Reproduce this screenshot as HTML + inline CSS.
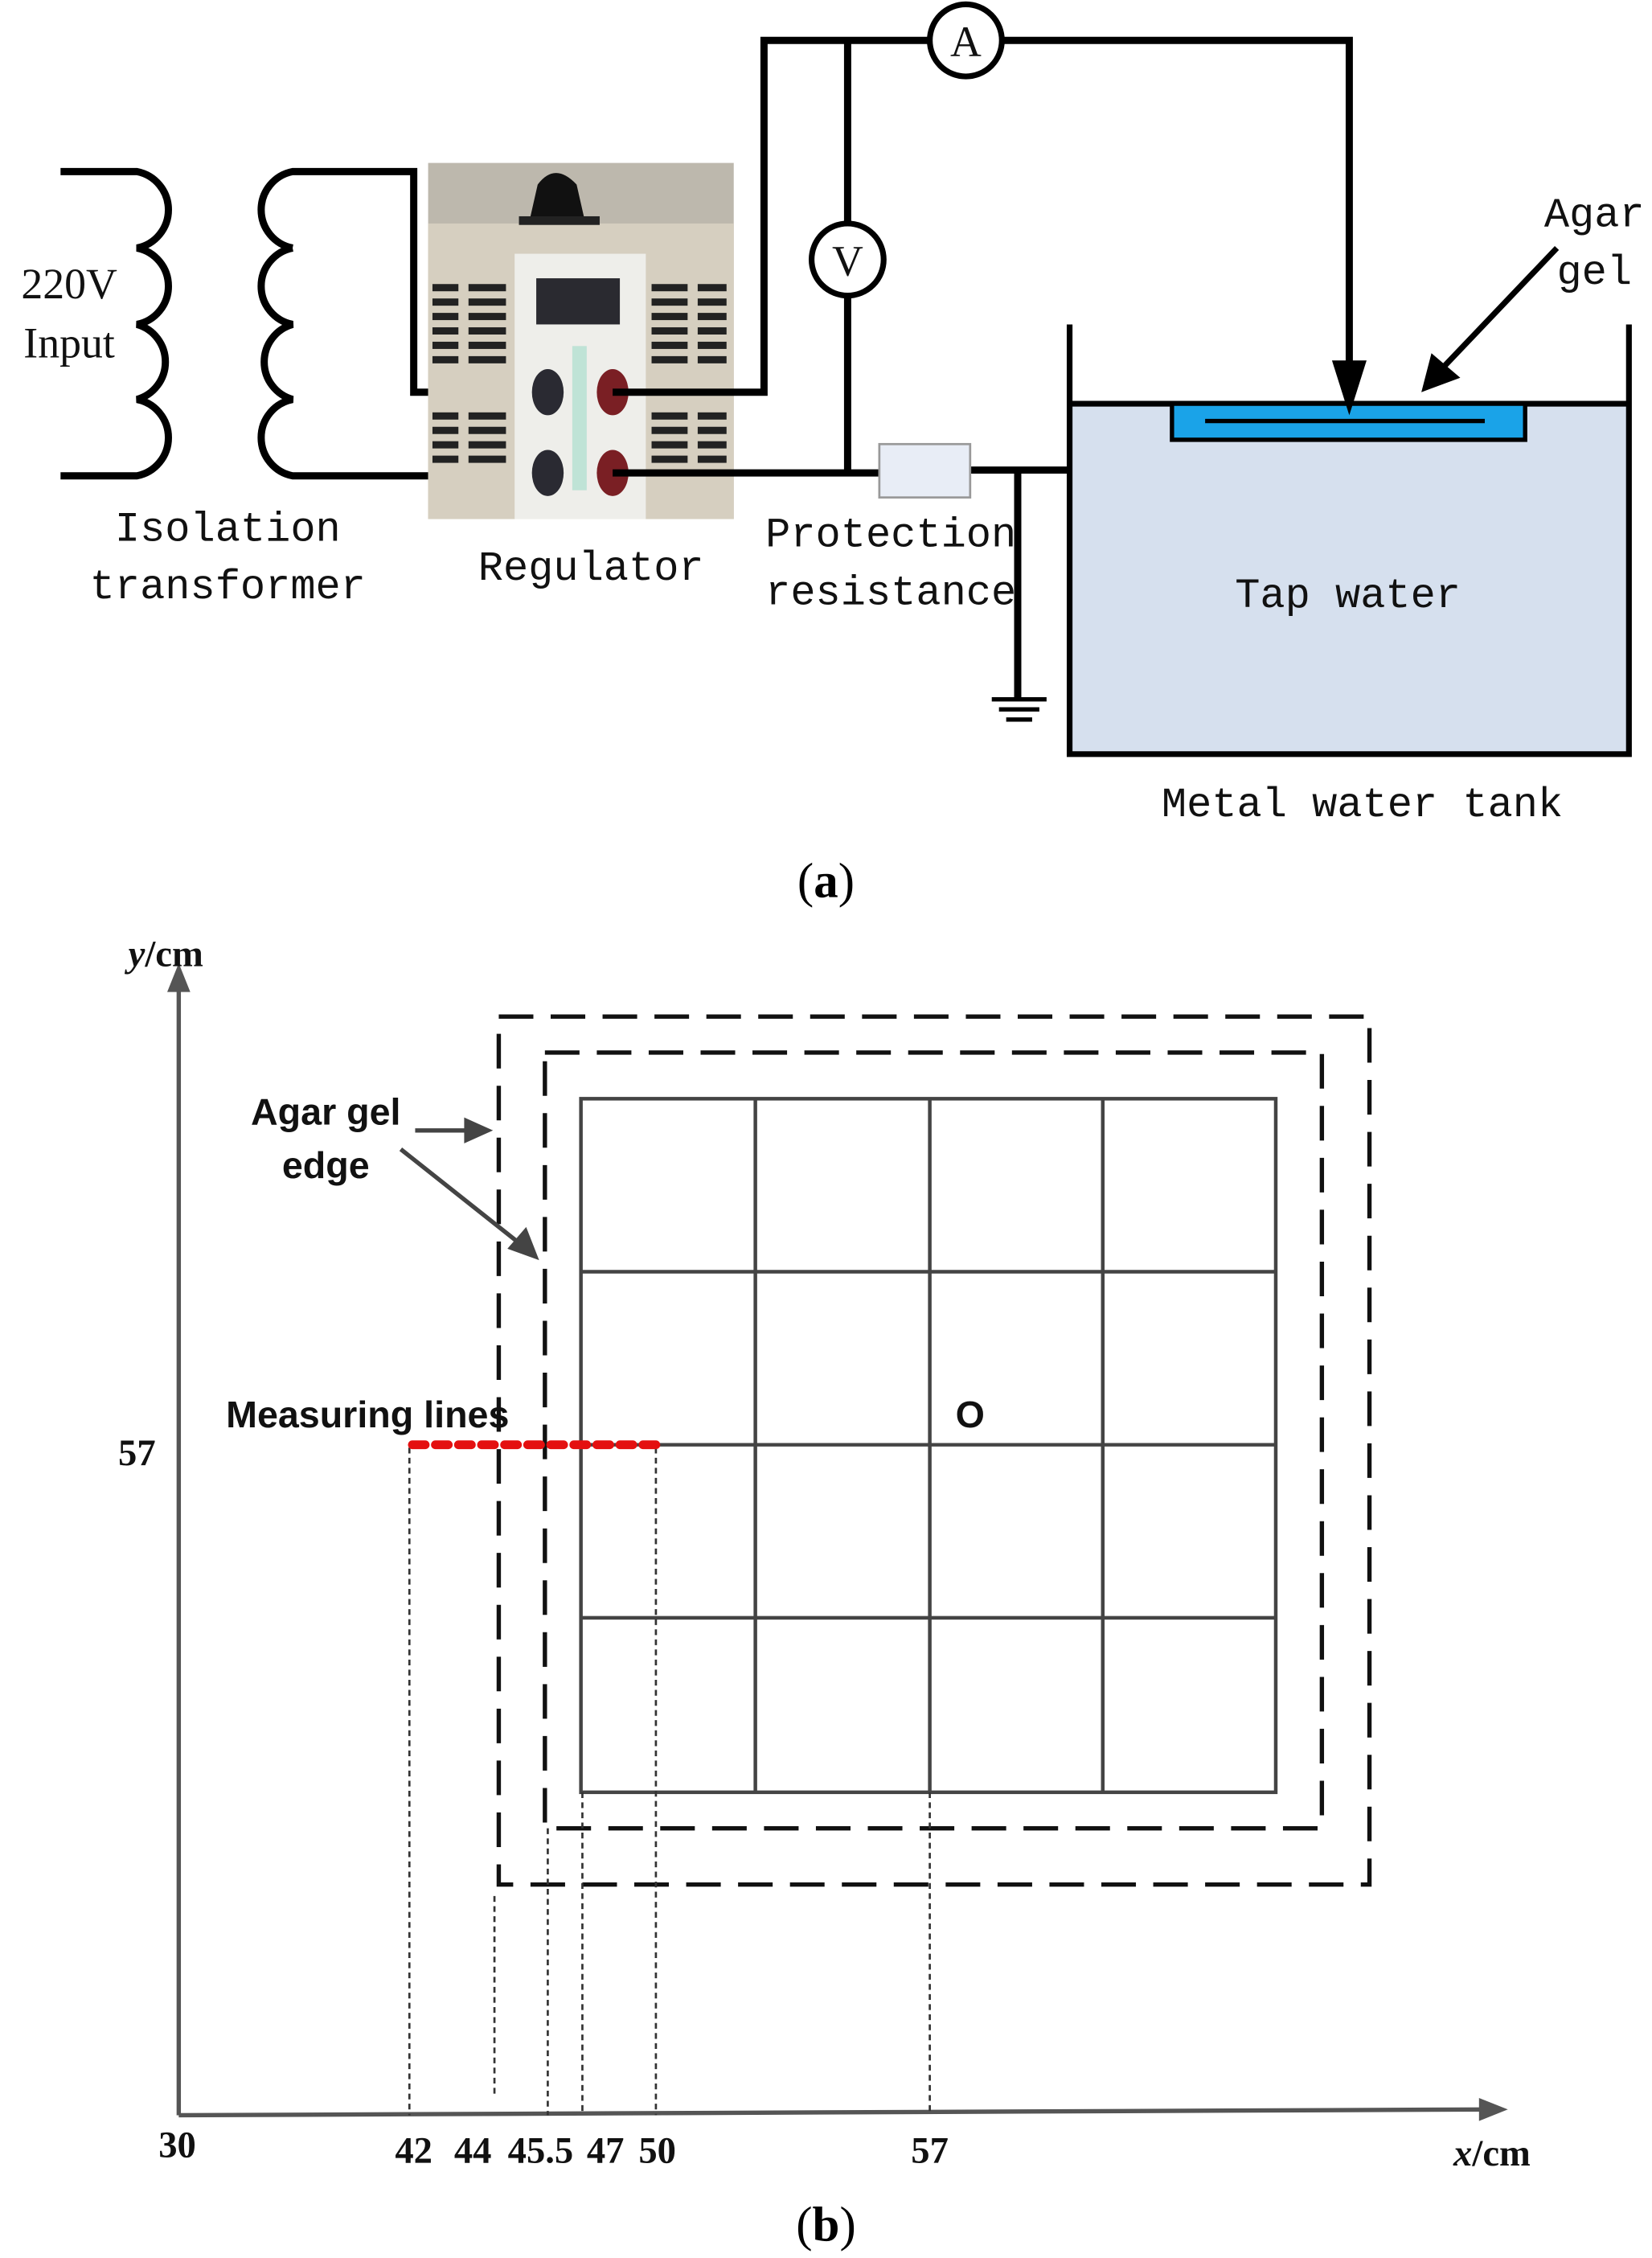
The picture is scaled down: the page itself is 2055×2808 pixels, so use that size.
<!DOCTYPE html>
<html><head><meta charset="utf-8"><style>
html,body{margin:0;padding:0;background:#fff}
svg{display:block}
.m{font-family:"Liberation Mono",monospace;font-size:29px;fill:#111}
.b{font-family:"Liberation Sans",sans-serif;font-weight:bold;font-size:26px;fill:#111}
.s{font-family:"Liberation Serif",serif;font-weight:bold;font-size:26px;fill:#111}
</style></head><body>
<svg width="2055" height="2808" viewBox="0 0 1146 1566" preserveAspectRatio="none" xmlns="http://www.w3.org/2000/svg">
<rect width="1146" height="1566" fill="#fff"/>
<!-- transformer -->
<g fill="none" stroke="#000" stroke-width="5">
<path d="M42 119 H95 A27 27 0 0 1 95 172 A27 27 0 0 1 95 225 A27 27 0 0 1 95 277 A27 27 0 0 1 95 330 H42"/>
<path d="M203 172 A27 27 0 0 1 203 119 H287 V272 H380"/>
<path d="M203 172 A27 27 0 0 0 203 225 A27 27 0 0 0 203 277 A27 27 0 0 0 203 330 H380"/>
</g>
<!-- regulator photo -->
<rect x="297" y="113" width="212" height="247" fill="#bdb8ad"/>
<rect x="297" y="155" width="212" height="205" fill="#d6cfc0"/>
<path d="M368 150 L373 128 Q385 112 400 128 L405 150 Z" fill="#111"/>
<rect x="360" y="150" width="56" height="6" fill="#222"/>
<rect x="357" y="176" width="91" height="184" fill="#eeeeea"/>
<rect x="372" y="193" width="58" height="32" fill="#2a2a30"/>
<g fill="#222">
<rect x="300" y="197" width="18" height="5"/><rect x="325" y="197" width="26" height="5"/><rect x="452" y="197" width="25" height="5"/><rect x="484" y="197" width="20" height="5"/>
<rect x="300" y="207" width="18" height="5"/><rect x="325" y="207" width="26" height="5"/><rect x="452" y="207" width="25" height="5"/><rect x="484" y="207" width="20" height="5"/>
<rect x="300" y="217" width="18" height="5"/><rect x="325" y="217" width="26" height="5"/><rect x="452" y="217" width="25" height="5"/><rect x="484" y="217" width="20" height="5"/>
<rect x="300" y="227" width="18" height="5"/><rect x="325" y="227" width="26" height="5"/><rect x="452" y="227" width="25" height="5"/><rect x="484" y="227" width="20" height="5"/>
<rect x="300" y="237" width="18" height="5"/><rect x="325" y="237" width="26" height="5"/><rect x="452" y="237" width="25" height="5"/><rect x="484" y="237" width="20" height="5"/>
<rect x="300" y="247" width="18" height="5"/><rect x="325" y="247" width="26" height="5"/><rect x="452" y="247" width="25" height="5"/><rect x="484" y="247" width="20" height="5"/>
<rect x="300" y="286" width="18" height="5"/><rect x="325" y="286" width="26" height="5"/><rect x="452" y="286" width="25" height="5"/><rect x="484" y="286" width="20" height="5"/>
<rect x="300" y="296" width="18" height="5"/><rect x="325" y="296" width="26" height="5"/><rect x="452" y="296" width="25" height="5"/><rect x="484" y="296" width="20" height="5"/>
<rect x="300" y="306" width="18" height="5"/><rect x="325" y="306" width="26" height="5"/><rect x="452" y="306" width="25" height="5"/><rect x="484" y="306" width="20" height="5"/>
<rect x="300" y="316" width="18" height="5"/><rect x="325" y="316" width="26" height="5"/><rect x="452" y="316" width="25" height="5"/><rect x="484" y="316" width="20" height="5"/>
</g>
<rect x="397" y="240" width="10" height="100" fill="#bfe3d6"/>
<ellipse cx="380" cy="272" rx="11" ry="16" fill="#2a2a32"/>
<ellipse cx="380" cy="328" rx="11" ry="16" fill="#2a2a32"/>
<ellipse cx="425" cy="272" rx="11" ry="16" fill="#7a1f24"/>
<ellipse cx="425" cy="328" rx="11" ry="16" fill="#7a1f24"/>
<!-- wiring -->
<g fill="none" stroke="#000" stroke-width="5">
<path d="M425 272 H530 V28 H645"/>
<path d="M695 28 H936 V255"/>
<path d="M588 28 V155 M588 205 V328"/>
<path d="M425 328 H610 M673 326 H742"/>
<path d="M706 326 V485"/>
<path d="M688 485 H726 M693 492 H721 M698 499 H716" stroke-width="3"/>
</g>
<circle cx="670" cy="28" r="25" fill="#fff" stroke="#000" stroke-width="4"/>
<circle cx="588" cy="180" r="25" fill="#fff" stroke="#000" stroke-width="4"/>
<text x="670" y="39" text-anchor="middle" class="m" style="font-family:'Liberation Serif',serif;font-size:30px">A</text>
<text x="588" y="191" text-anchor="middle" class="m" style="font-family:'Liberation Serif',serif;font-size:30px">V</text>
<rect x="610" y="308" width="63" height="37" fill="#e8edf6" stroke="#999" stroke-width="1.5"/>
<!-- tank -->
<rect x="742" y="280" width="388" height="243" fill="#d6e0ee"/>
<g fill="none" stroke="#000" stroke-width="4">
<path d="M742 225 V523 H1130 V225"/>
<path d="M742 280 H1130"/>
</g>
<rect x="813" y="280" width="245" height="25" fill="#1aa3e8" stroke="#000" stroke-width="3"/>
<line x1="836" y1="292" x2="1030" y2="292" stroke="#000" stroke-width="3"/>
<polygon points="936,288 924,250 948,250" fill="#000"/>
<line x1="1080" y1="172" x2="1000" y2="256" stroke="#000" stroke-width="4"/>
<polygon points="986,272 993,245 1013,262" fill="#000"/>
<!-- labels a -->
<g class="m" text-anchor="middle">
<text x="48" y="207" style="font-family:'Liberation Serif',serif;font-size:30px">220V</text>
<text x="48" y="248" style="font-family:'Liberation Serif',serif;font-size:30px">Input</text>
<text x="158" y="375">Isolation</text>
<text x="158" y="415">transformer</text>
<text x="410" y="402">Regulator</text>
<text x="618" y="379">Protection</text>
<text x="618" y="419">resistance</text>
<text x="1106" y="157">Agar</text>
<text x="1106" y="197">gel</text>
<text x="935" y="421">Tap water</text>
<text x="945" y="566">Metal water tank</text>
</g>
<text x="573" y="622" text-anchor="middle" style="font-family:'Liberation Serif',serif;font-size:34px">(<tspan font-weight="bold">a</tspan>)</text>
<!-- part b axes -->
<g stroke="#555" stroke-width="3" fill="none">
<line x1="124" y1="1467" x2="124" y2="682"/>
<line x1="124" y1="1467" x2="1030" y2="1463"/>
</g>
<polygon points="124,668 116,688 132,688" fill="#555"/>
<polygon points="1046,1463 1026,1455 1026,1471" fill="#555"/>
<!-- grid -->
<g stroke="#444" stroke-width="2.5" fill="none">
<rect x="403" y="762" width="482" height="481"/>
<line x1="524" y1="762" x2="524" y2="1243"/>
<line x1="645" y1="762" x2="645" y2="1243"/>
<line x1="765" y1="762" x2="765" y2="1243"/>
<line x1="403" y1="882" x2="885" y2="882"/>
<line x1="403" y1="1002" x2="885" y2="1002"/>
<line x1="403" y1="1122" x2="885" y2="1122"/>
</g>
<g stroke="#111" stroke-width="3" fill="none" stroke-dasharray="24,12">
<rect x="378" y="730" width="539" height="538"/>
<rect x="346" y="705" width="604" height="602"/>
</g>
<g stroke="#333" stroke-width="1.5" stroke-dasharray="4,3" fill="none">
<line x1="284" y1="1004" x2="284" y2="1467"/>
<line x1="343" y1="1315" x2="343" y2="1455"/>
<line x1="380" y1="1268" x2="380" y2="1467"/>
<line x1="404" y1="1243" x2="404" y2="1467"/>
<line x1="455" y1="1004" x2="455" y2="1467"/>
<line x1="645" y1="1243" x2="645" y2="1467"/>
</g>
<line x1="286" y1="1002" x2="455" y2="1002" stroke="#e41010" stroke-width="6" stroke-dasharray="9,7" stroke-linecap="round"/>
<g stroke="#444" stroke-width="3"><line x1="288" y1="784" x2="325" y2="784"/><line x1="278" y1="797" x2="360" y2="862"/></g>
<polygon points="342,784 322,775 322,793" fill="#444"/>
<polygon points="374,874 352,866 365,851" fill="#444"/>
<g class="b" text-anchor="middle">
<text x="226" y="780">Agar gel</text>
<text x="226" y="817">edge</text>
<text x="255" y="990">Measuring lines</text>
<text x="673" y="990">O</text>
</g>
<g class="s" text-anchor="middle">
<text x="115" y="670"><tspan font-style="italic">y</tspan>/cm</text>
<text x="95" y="1016">57</text>
<text x="123" y="1496">30</text>
<text x="287" y="1500">42</text>
<text x="328" y="1500">44</text>
<text x="375" y="1500">45.5</text>
<text x="420" y="1500">47</text>
<text x="456" y="1500">50</text>
<text x="645" y="1500">57</text>
<text x="1035" y="1502"><tspan font-style="italic">x</tspan>/cm</text>
</g>
<text x="573" y="1554" text-anchor="middle" style="font-family:'Liberation Serif',serif;font-size:34px">(<tspan font-weight="bold">b</tspan>)</text>
</svg>
</body></html>
